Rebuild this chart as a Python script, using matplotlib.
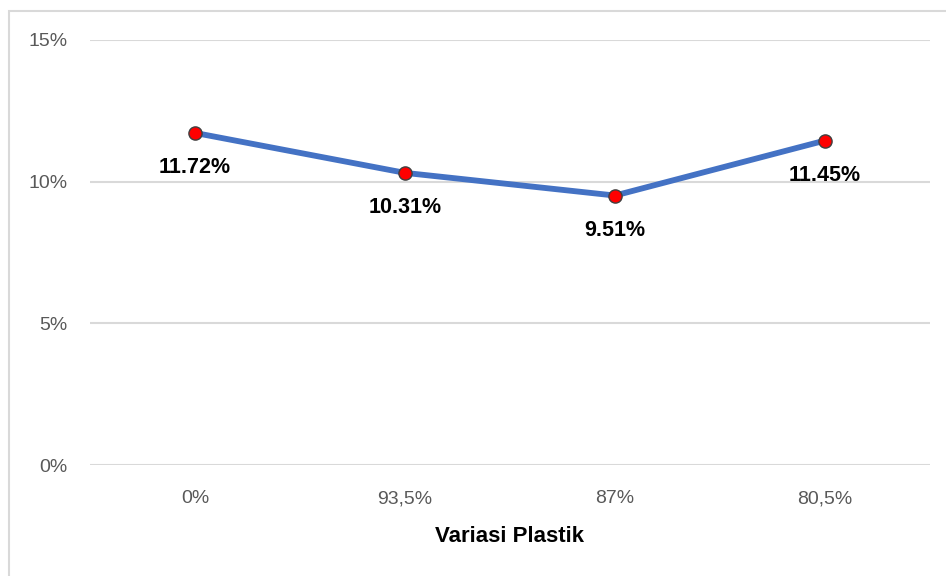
import matplotlib.pyplot as plt
from matplotlib.patches import Rectangle
from matplotlib.ticker import FuncFormatter

categories = ["0%", "93,5%", "87%", "80,5%"]
values = [11.72, 10.31, 9.51, 11.45]
y_ticks = [0, 5, 10, 15]

plt.rcParams["font.family"] = ["Liberation Sans", "DejaVu Sans"]

fig = plt.figure(figsize=(9.46, 5.76), dpi=100)
ax = fig.add_axes([0.0951, 0.1927, 0.8879, 0.7379])

# thin chart-area border
fig.patches.append(Rectangle((9 / 946, -0.05), 1.1, 1 - 11 / 576 + 0.05,
                             transform=fig.transFigure, fill=False,
                             edgecolor="#D9D9D9", linewidth=1.5))

x = range(len(categories))
ax.plot(x, values, color="#4472C4", linewidth=4.2, zorder=3,
        marker="o", markersize=9.5, markerfacecolor="#FF0000",
        markeredgecolor="#404040", markeredgewidth=1.0, solid_capstyle="round")

for xi, v in zip(x, values):
    ax.annotate(f"{v:.2f}%", (xi, v), xytext=(0, -25), textcoords="offset points",
                ha="center", va="center", fontsize=15.5, fontweight="bold", color="black")

ax.set_xlim(-0.5, len(categories) - 0.5)
ax.set_ylim(0, 15)
ax.set_yticks(y_ticks)
ax.yaxis.set_major_formatter(FuncFormatter(lambda v, _: f"{v:.0f}%"))
ax.set_xticks(list(x))
ax.set_xticklabels(categories)
ax.grid(axis="y", color="#D9D9D9", linewidth=1.5)
ax.set_axisbelow(True)
for s in ax.spines.values():
    s.set_visible(False)
ax.tick_params(length=0, labelsize=14, labelcolor="#595959")
ax.tick_params(axis="x", pad=18)
ax.tick_params(axis="y", pad=16)
ax.set_xlabel("Variasi Plastik", fontsize=16, fontweight="bold", color="black", labelpad=14)

fig.savefig("out.png", dpi=100)
